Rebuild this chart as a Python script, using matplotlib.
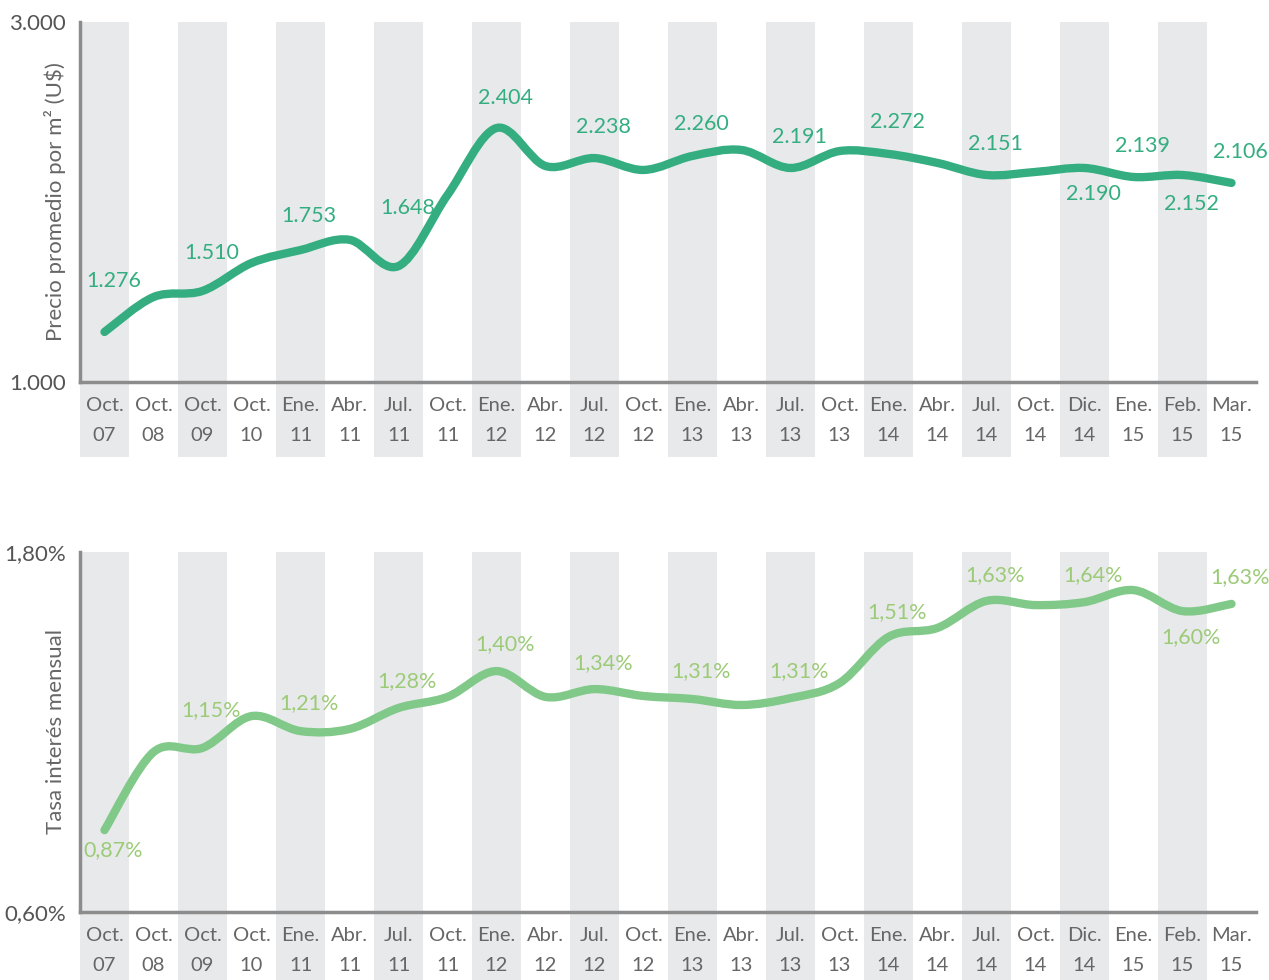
import numpy as np
import matplotlib.pyplot as plt
from matplotlib.path import Path
from matplotlib.patches import PathPatch

plt.rcParams['font.family'] = ['Lato', 'DejaVu Sans']

# categorias del eje x
meses = ['Oct.', 'Oct.', 'Oct.', 'Oct.', 'Ene.', 'Abr.', 'Jul.', 'Oct.', 'Ene.', 'Abr.', 'Jul.', 'Oct.',
         'Ene.', 'Abr.', 'Jul.', 'Oct.', 'Ene.', 'Abr.', 'Jul.', 'Oct.', 'Dic.', 'Ene.', 'Feb.', 'Mar.']
anios = ['07', '08', '09', '10', '11', '11', '11', '11', '12', '12', '12', '12',
         '13', '13', '13', '13', '14', '14', '14', '14', '14', '15', '15', '15']

# precio promedio por m2 (U$)
precio = [1278, 1472, 1506, 1661, 1733, 1790, 1644, 2039, 2411, 2200, 2244, 2178,
          2256, 2289, 2189, 2283, 2267, 2217, 2150, 2167, 2189, 2139, 2150, 2106]
precio_idx = [0, 2, 4, 6, 8, 10, 12, 14, 16, 18, 20, 21, 22, 23]
precio_txt = ['1.276', '1.510', '1.753', '1.648', '2.404', '2.238', '2.260', '2.191',
              '2.272', '2.151', '2.190', '2.139', '2.152', '2.106']

# tasa de interes mensual (%)
tasa = [0.873, 1.133, 1.147, 1.253, 1.203, 1.21, 1.28, 1.317, 1.403, 1.317, 1.343, 1.32,
        1.31, 1.29, 1.313, 1.363, 1.517, 1.547, 1.637, 1.623, 1.633, 1.673, 1.603, 1.627]
tasa_idx = [0, 2, 4, 6, 8, 10, 12, 14, 16, 18, 20, 22, 23]
tasa_txt = ['0,87%', '1,15%', '1,21%', '1,28%', '1,40%', '1,34%', '1,31%', '1,31%',
            '1,51%', '1,63%', '1,64%', '1,60%', '1,63%']

# posicion vertical de las etiquetas (layout)
precio_lab_y = [1561, 1717, 1922, 1967, 2578, 2417, 2433, 2361, 2444, 2322, 2044, 2311, 1989, 2278]
tasa_lab_y = [0.807, 1.273, 1.297, 1.37, 1.493, 1.43, 1.403, 1.403, 1.60, 1.723, 1.723, 1.517, 1.717]

GRIS_BANDA = '#e8e9eb'
GRIS_EJE = '#8c8c8c'
GRIS_TXT = '#666666'


def curva(xs, ys):
    # catmull-rom -> bezier
    pts = np.column_stack([xs, ys]).astype(float)
    verts = [pts[0]]
    codes = [Path.MOVETO]
    for i in range(len(pts) - 1):
        p0 = pts[i - 1] if i > 0 else pts[i]
        p1 = pts[i]
        p2 = pts[i + 1]
        p3 = pts[i + 2] if i + 2 < len(pts) else pts[i + 1]
        verts += [p1 + (p2 - p0) / 6, p2 - (p3 - p1) / 6, p2]
        codes += [Path.CURVE4] * 3
    return Path(verts, codes)


def panel(ax, vals, ylim, yticks, ylabels, ylab, color, idx, txts, laby, txtcolor, banda_abajo):
    n = len(vals)
    x = np.arange(n)
    for i in range(0, n, 2):
        ax.axvspan(i - 0.5, i + 0.5, ymin=banda_abajo, ymax=1, color=GRIS_BANDA,
                   lw=0, zorder=0, clip_on=False)
    ax.add_patch(PathPatch(curva(x, vals), fill=False, edgecolor=color, lw=6,
                           capstyle='round', joinstyle='round', zorder=3))
    for i, t, yy in zip(idx, txts, laby):
        ax.text(i + 0.18, yy, t, ha='center', va='center', color=txtcolor, fontsize=15.5, zorder=4)
    ax.set_xlim(-0.5, n - 0.5)
    ax.set_ylim(*ylim)
    ax.set_xticks(x)
    ax.set_xticklabels([f'{m}\n{a}' for m, a in zip(meses, anios)], linespacing=1.9)
    ax.set_yticks(yticks)
    ax.set_yticklabels(ylabels)
    ax.tick_params(axis='x', length=0, pad=11, labelsize=14.5, labelcolor=GRIS_TXT)
    ax.tick_params(axis='y', length=0, pad=10, labelsize=16, labelcolor='#555555')
    ax.set_ylabel(ylab, fontsize=16, color=GRIS_TXT)
    for s in ['top', 'right']:
        ax.spines[s].set_visible(False)
    for s in ['left', 'bottom']:
        ax.spines[s].set_color(GRIS_EJE)
        ax.spines[s].set_linewidth(2.5)
        ax.spines[s].set_zorder(5)
    ax.set_facecolor('none')


fig = plt.figure(figsize=(12.69, 9.80), dpi=100)
ax1 = fig.add_axes([80 / 1269, (980 - 382) / 980, 1176 / 1269, 360 / 980])
ax2 = fig.add_axes([80 / 1269, (980 - 912) / 980, 1176 / 1269, 360 / 980])

panel(ax1, precio, (1000, 3000), [1000, 3000], ['1.000', '3.000'],
      'Precio promedio por m² (U$)', '#34ae80', precio_idx, precio_txt, precio_lab_y,
      '#34ae80', -75 / 360)
panel(ax2, tasa, (0.6, 1.8), [0.6, 1.8], ['0,60%', '1,80%'],
      'Tasa interés mensual', '#80c988', tasa_idx, tasa_txt, tasa_lab_y,
      '#9ccb78', -68 / 360)

ax1.yaxis.set_label_coords(-14 / 1176, 0.5)
ax2.yaxis.set_label_coords(-14 / 1176, 0.5)

fig.savefig('out.png', dpi=100)
